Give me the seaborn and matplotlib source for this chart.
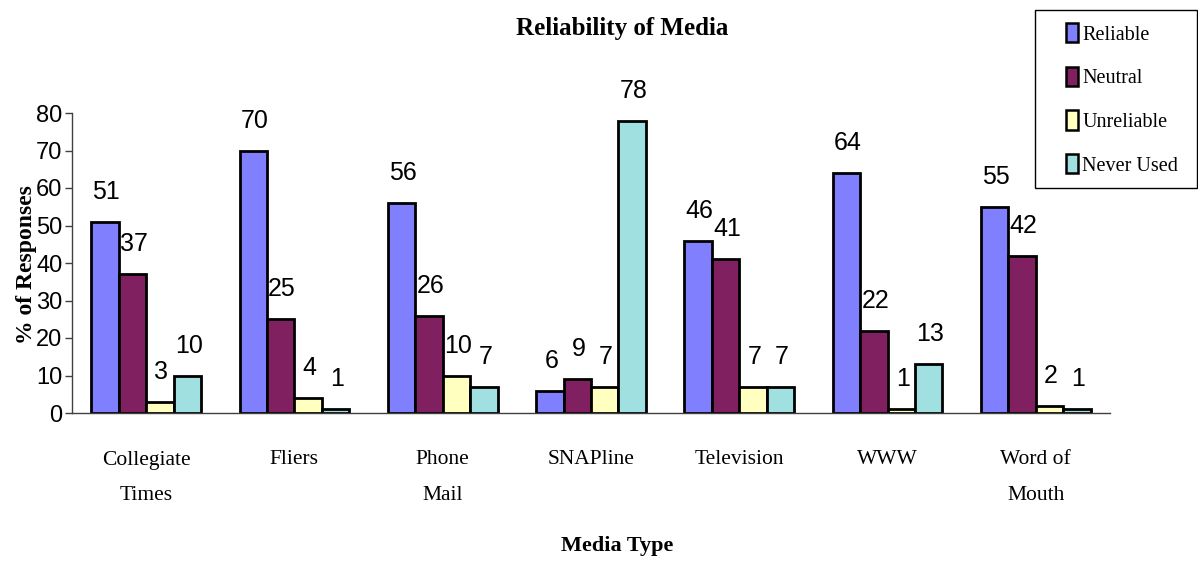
import matplotlib
matplotlib.use("Agg")
import matplotlib.pyplot as plt
import seaborn as sns
import pandas as pd
import numpy as np

# Survey results: share of responses per media type and rating
media = ["Collegiate\nTimes", "Fliers", "Phone\nMail", "SNAPline",
         "Television", "WWW", "Word of\nMouth"]
reliable = [51, 70, 56, 6, 46, 64, 55]
neutral = [37, 25, 26, 9, 41, 22, 42]
unreliable = [3, 4, 10, 7, 7, 1, 2]
never_used = [10, 1, 7, 78, 7, 13, 1]
series_names = ["Reliable", "Neutral", "Unreliable", "Never Used"]
y_ticks = [0, 10, 20, 30, 40, 50, 60, 70, 80]

palette = ["#8080FF", "#802060", "#FFFFC0", "#A0E0E0"]

rows = []
for name, vals in zip(series_names, [reliable, neutral, unreliable, never_used]):
    for m, v in zip(media, vals):
        rows.append({"Media": m, "Rating": name, "Percent": v})
df = pd.DataFrame(rows)

sns.set_theme(style="white")
plt.rcParams["font.family"] = ["Liberation Sans"]
plt.rcParams["text.color"] = "black"
plt.rcParams["xtick.color"] = "black"
plt.rcParams["ytick.color"] = "black"

sans = ["Liberation Sans Narrow", "Liberation Sans"]
W, H = 1198, 565

fig = plt.figure(figsize=(W / 100, H / 100), dpi=100)
ax = fig.add_axes([72 / W, 152 / H, 1038 / W, 300 / H])

sns.barplot(data=df, x="Media", y="Percent", hue="Rating", order=media,
            hue_order=series_names, palette=palette, width=0.74,
            edgecolor="black", linewidth=2.0, saturation=1, ax=ax)

ax.set_ylim(0, 80)
ax.set_xlim(-0.5, len(media) - 0.5)
ax.set_yticks(y_ticks)
ax.set_yticklabels([str(t) for t in y_ticks], fontsize=17, family=sans)
ax.set_xlabel("")
ax.set_ylabel("")

# category labels centred under each group; cross ticks between groups
ax.set_xticks(range(len(media)))
ax.set_xticklabels(media, fontsize=15.5, family="Liberation Serif",
                   linespacing=2.15)
ax.tick_params(axis="x", which="major", length=0, pad=27)
ax.set_xticks(np.arange(-0.5, len(media), 1.0), minor=True)
ax.tick_params(axis="x", which="minor", direction="inout", length=18,
               width=1, color="#404040")
ax.tick_params(axis="y", which="major", direction="out", length=5,
               width=1, color="#404040", pad=2, left=True)

for side in ["top", "right"]:
    ax.spines[side].set_visible(False)
for side in ["left", "bottom"]:
    ax.spines[side].set_color("#404040")
    ax.spines[side].set_linewidth(1)
ax.grid(False)

# value labels above each bar
for cont in ax.containers:
    for rect in cont:
        h = rect.get_height()
        ax.annotate(f"{h:.0f}", (rect.get_x() + rect.get_width() / 2, h),
                    xytext=(1, 21.5), textcoords="offset points",
                    ha="center", va="center", fontsize=18, family=sans)

# legend inside a boxed panel at the top right
ax.get_legend().remove()
fig.patches.append(plt.Rectangle((1035 / W, 1 - 188 / H), 162 / W, 178 / H,
                                 transform=fig.transFigure, fill=False,
                                 edgecolor="black", linewidth=1))
handles = [plt.Rectangle((0, 0), 1, 1, facecolor=c, edgecolor="black", linewidth=1.8)
           for c in palette]
leg = fig.legend(handles, series_names, loc="upper left",
                 bbox_to_anchor=(1066 / W, 1 - 23 / H),
                 bbox_transform=fig.transFigure,
                 prop={"family": "Liberation Serif", "size": 14.5},
                 frameon=False, handlelength=0.6,
                 handleheight=1.1, handletextpad=0.2, labelspacing=1.1,
                 borderpad=0, borderaxespad=0)

fig.text(622 / W, 1 - 28 / H, "Reliability of Media", ha="center",
         va="center", fontsize=18, fontweight="bold", family="Liberation Serif")
fig.text(27 / W, 1 - 265 / H, "% of Responses", ha="center", va="center",
         rotation=90, fontsize=17, fontweight="bold", family="Liberation Serif")
fig.text(617 / W, 1 - 546 / H, "Media Type", ha="center", va="center",
         fontsize=16, fontweight="bold", family="Liberation Serif")

fig.savefig("out.png", dpi=100, facecolor="white")
